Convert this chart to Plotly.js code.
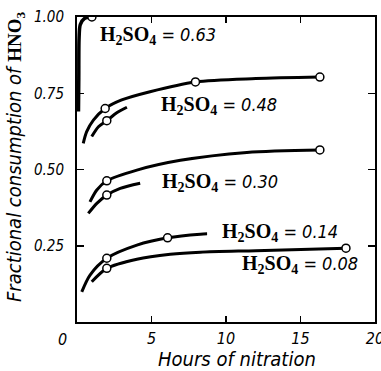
<!DOCTYPE html>
<html>
<head>
<meta charset="utf-8">
<script src="https://cdn.plot.ly/plotly-3.0.1.min.js"></script>
<style>html,body{margin:0;padding:0;background:#fff;}#chart{width:381px;height:371px;}</style>
</head>
<body>
<div id="chart"></div>
<script>
// Hours of nitration (x) and fractional consumption of HNO3 (y)
const x063 = [0.10, 0.12, 0.14, 0.22, 0.50, 1.00];
const y063 = [0.69, 0.80, 0.93, 0.975, 0.995, 1.00];
const cx063 = [1.00];
const cy063 = [1.00];

const x048a = [0.42, 0.65, 1.10, 1.89, 3.00, 4.90, 7.95, 12.0, 16.3];
const y048a = [0.586, 0.624, 0.662, 0.700, 0.728, 0.755, 0.787, 0.798, 0.803];
const cx048a = [1.89, 7.95, 16.3];
const cy048a = [0.700, 0.787, 0.803];

const x048b = [0.99, 1.44, 2.00, 2.67, 3.35];
const y048b = [0.608, 0.640, 0.660, 0.686, 0.704];
const cx048b = [2.00];
const cy048b = [0.660];

const x030a = [0.87, 1.33, 2.00, 4.02, 6.94, 11.4, 16.3];
const y030a = [0.394, 0.433, 0.463, 0.498, 0.530, 0.556, 0.564];
const cx030a = [2.00, 16.3];
const cy030a = [0.463, 0.564];

const x030b = [0.76, 1.33, 2.00, 2.90, 4.24];
const y030b = [0.356, 0.389, 0.416, 0.438, 0.455];
const cx030b = [2.00];
const cy030b = [0.416];

const x014 = [0.32, 0.875, 2.00, 4.02, 6.08, 8.28, 8.73];
const y014 = [0.099, 0.154, 0.209, 0.252, 0.276, 0.288, 0.289];
const cx014 = [2.00, 6.08];
const cy014 = [0.209, 0.276];

const x008 = [0.99, 2.00, 4.02, 6.26, 8.28, 12.0, 18.05];
const y008 = [0.132, 0.176, 0.206, 0.222, 0.229, 0.234, 0.242];
const cx008 = [2.00, 18.05];
const cy008 = [0.176, 0.242];

const xTicks = [5, 10, 15, 20];
const yTicks = [0.25, 0.50, 0.75, 1.00];
const yTickText = ['0.25', '0.50', '0.75', '1.00'];

const labels = ['0.63', '0.48', '0.30', '0.14', '0.08'];
const labelX = [5.45, 9.56, 9.63, 13.6, 14.95];
const labelY = [0.941, 0.711, 0.459, 0.292, 0.187];

const SANS = '"DejaVu Sans Condensed", "DejaVu Sans", sans-serif';
const SERIF_CSS = "'Liberation Serif', 'DejaVu Serif', serif";

function lineTrace(x, y, w) {
  return {x: x, y: y, mode: 'lines', type: 'scatter', line: {color: '#000', width: w || 3, shape: 'spline', smoothing: 0.8}, hoverinfo: 'skip', showlegend: false};
}
function circTrace(x, y) {
  return {x: x, y: y, mode: 'markers', type: 'scatter', marker: {symbol: 'circle', size: 8, color: '#fff', line: {color: '#000', width: 1.5}}, hoverinfo: 'skip', showlegend: false};
}

const data = [
  lineTrace(x063, y063, 3.5), lineTrace(x048a, y048a), lineTrace(x048b, y048b),
  lineTrace(x030a, y030a), lineTrace(x030b, y030b), lineTrace(x014, y014), lineTrace(x008, y008),
  circTrace(cx063, cy063), circTrace(cx048a, cy048a), circTrace(cx048b, cy048b),
  circTrace(cx030a, cy030a), circTrace(cx030b, cy030b), circTrace(cx014, cy014), circTrace(cx008, cy008)
];

const h2so4 = '<span style="font-family:' + SERIF_CSS + ';font-weight:bold;font-style:normal;font-size:20px">H<sub>2</sub>SO<sub>4</sub></span>';

const annotations = labels.map((v, i) => ({
  x: labelX[i], y: labelY[i], xref: 'x', yref: 'y', showarrow: false,
  text: h2so4 + ' = ' + v, xanchor: 'center', yanchor: 'middle',
  font: {family: SANS, size: 18, color: '#000', style: 'italic'}
}));
annotations.push({
  x: -0.208, y: 0.541, xref: 'paper', yref: 'paper', showarrow: false, textangle: -90,
  xanchor: 'center', yanchor: 'middle',
  text: 'Fractional consumption of <span style="font-family:' + SERIF_CSS + ';font-weight:bold;font-style:normal;font-size:19px">HNO<sub>3</sub></span>',
  font: {family: SANS, size: 20, color: '#000', style: 'italic'}
});
annotations.push({
  x: 0.537, y: -0.121, xref: 'paper', yref: 'paper', showarrow: false,
  xanchor: 'center', yanchor: 'middle', text: 'Hours of nitration',
  font: {family: SANS, size: 20, color: '#000', style: 'italic'}
});
annotations.push({
  x: -0.047, y: -0.056, xref: 'paper', yref: 'paper', showarrow: false, text: '0',
  xanchor: 'center', yanchor: 'middle',
  font: {family: SANS, size: 16, color: '#000', style: 'italic'}
});

const layout = {
  width: 381, height: 371,
  margin: {l: 77, r: 6, t: 17, b: 49},
  paper_bgcolor: '#fff', plot_bgcolor: '#fff',
  showlegend: false,
  font: {family: SANS, size: 16, color: '#000', style: 'italic'},
  xaxis: {
    range: [0, 20], tickvals: xTicks, ticks: 'inside', ticklen: 6, tickwidth: 1.5, tickcolor: '#000',
    showline: true, linecolor: '#000', linewidth: 2, mirror: 'ticks', showgrid: false, zeroline: false,
    ticklabeloverflow: 'allow', ticklabelstandoff: 1,
    tickfont: {family: SANS, size: 16, color: '#000', style: 'italic'}
  },
  yaxis: {
    range: [0, 1.0], tickvals: yTicks, ticktext: yTickText, ticks: 'inside', ticklen: 7, tickwidth: 1.5, tickcolor: '#000',
    showline: true, linecolor: '#000', linewidth: 2, mirror: 'ticks', showgrid: false, zeroline: false,
    ticklabeloverflow: 'allow', ticklabelstandoff: 8,
    tickfont: {family: SANS, size: 15, color: '#000', style: 'italic'}
  },
  annotations: annotations
};

Plotly.newPlot('chart', data, layout, {displayModeBar: false, staticPlot: true});
</script>
</body>
</html>
